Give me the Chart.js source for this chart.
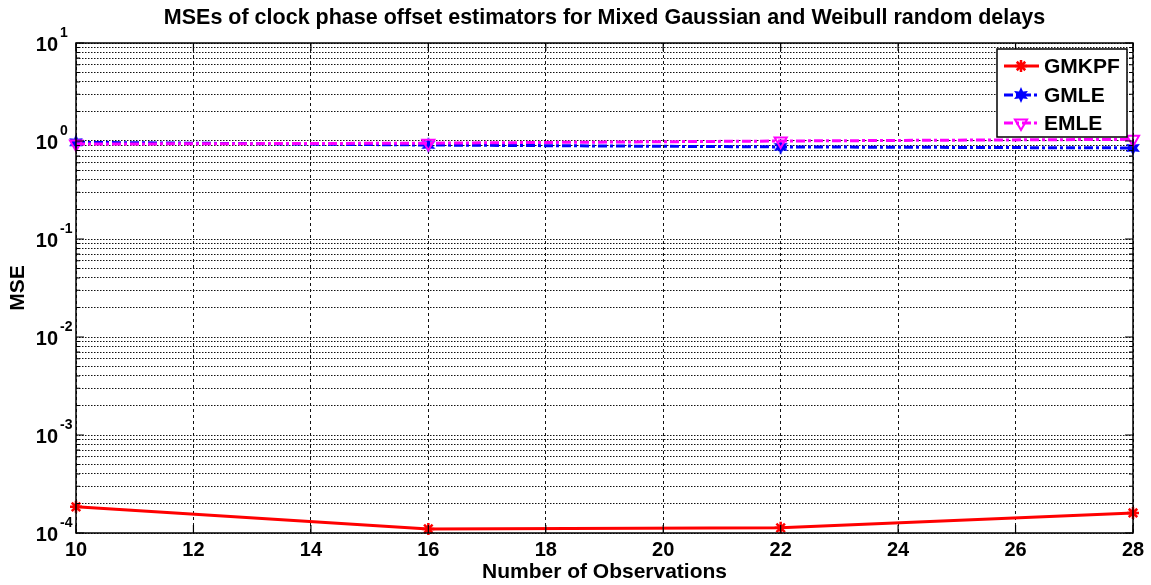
<!DOCTYPE html>
<html>
<head>
<meta charset="utf-8">
<script src="https://cdn.jsdelivr.net/npm/chart.js@4.4.1/dist/chart.umd.min.js"></script>
<style>
html, body { margin: 0; padding: 0; background: #fff; }
#holder { width: 1151px; height: 585px; }
</style>
</head>
<body>
<div id="holder"><canvas id="mseChart"></canvas></div>
<script>
// values
const observations = [10, 16, 22, 28];
const gmkpfMse = [1.85e-4, 1.1e-4, 1.13e-4, 1.6e-4];
const gmleMse = [0.97, 0.91, 0.87, 0.85];
const emleMse = [0.93, 0.95, 1.0, 1.04];

const xTickValues = [10, 12, 14, 16, 18, 20, 22, 24, 26, 28];
const yDecades = [-4, -3, -2, -1, 0, 1];
const seriesNames = ['GMKPF', 'GMLE', 'EMLE'];

const FONT = "'Liberation Sans', Arial, sans-serif";
const DASH_DOT = [9, 3, 3, 3];

// filled hexagram used for the GMLE marker
function hexagramImage(color, r){
    const c = document.createElement('canvas');
    c.width = r * 2 + 2;
    c.height = r * 2 + 2;
    const g = c.getContext('2d');
    g.translate(r + 1, r + 1);
    starPath(g, r);
    g.fillStyle = color;
    g.fill();
    return c;
}

function starPath(g, r){
    g.beginPath();
    for (let i = 0; i < 12; i++){
        const a = -Math.PI / 2 + i * Math.PI / 6;
        const rr = i % 2 == 0 ? r : r * 0.5;
        const px = Math.cos(a) * rr;
        const py = Math.sin(a) * rr;
        if (i == 0) g.moveTo(px, py); else g.lineTo(px, py);
    }
    g.closePath();
}

function drawAsterisk(ctx, x, y, r, color){
    ctx.save();
    ctx.strokeStyle = color;
    ctx.lineWidth = 2.5;
    ctx.setLineDash([]);
    ctx.beginPath();
    for (let i = 0; i < 4; i++){
        const a = i * Math.PI / 4;
        ctx.moveTo(x - Math.cos(a) * r, y - Math.sin(a) * r);
        ctx.lineTo(x + Math.cos(a) * r, y + Math.sin(a) * r);
    }
    ctx.stroke();
    ctx.restore();
}

function drawTriangleDown(ctx, x, y, r, color){
    ctx.save();
    ctx.strokeStyle = color;
    ctx.lineWidth = 2;
    ctx.setLineDash([]);
    ctx.beginPath();
    ctx.moveTo(x - r * 0.87, y - r * 0.5);
    ctx.lineTo(x + r * 0.87, y - r * 0.5);
    ctx.lineTo(x, y + r);
    ctx.closePath();
    ctx.stroke();
    ctx.restore();
}

const gmleMarker = hexagramImage('#0000ff', 8);

const framePlugin = {
    id: 'matlabFrame',
    afterDraw(chart){
        const ctx = chart.ctx;
        const area = chart.chartArea;
        const xs = chart.scales.x;
        const ys = chart.scales.y;
        ctx.save();

        // y tick labels as 10 with a raised exponent
        ctx.fillStyle = '#000';
        for (const d of yDecades){
            const y = ys.getPixelForValue(Math.pow(10, d));
            ctx.font = 'bold 20px ' + FONT;
            ctx.textAlign = 'right';
            ctx.textBaseline = 'alphabetic';
            ctx.fillText('10', 58, y + 8);
            ctx.font = 'bold 14px ' + FONT;
            ctx.textAlign = 'left';
            ctx.fillText(String(d), 60, y - 6);
        }

        // box round the plot
        ctx.strokeStyle = '#000';
        ctx.lineWidth = 1.5;
        ctx.setLineDash([]);
        ctx.strokeRect(area.left, area.top, area.right - area.left, area.bottom - area.top);

        // inward tick marks
        ctx.lineWidth = 1.2;
        ctx.beginPath();
        for (const v of xTickValues){
            const x = xs.getPixelForValue(v);
            ctx.moveTo(x, area.bottom); ctx.lineTo(x, area.bottom - 8);
            ctx.moveTo(x, area.top); ctx.lineTo(x, area.top + 8);
        }
        for (const t of ys.ticks){
            const y = ys.getPixelForValue(t.value);
            const len = t.major ? 8 : 4;
            ctx.moveTo(area.left, y); ctx.lineTo(area.left + len, y);
            ctx.moveTo(area.right, y); ctx.lineTo(area.right - len, y);
        }
        ctx.stroke();

        // legend box
        const lx = 997, ly = 49, lw = 130, lh = 88;
        ctx.fillStyle = '#fff';
        ctx.fillRect(lx, ly, lw, lh);
        ctx.lineWidth = 1.5;
        ctx.strokeRect(lx, ly, lw, lh);

        const rows = [66, 95, 123];
        const styles = chart.data.datasets;
        for (let i = 0; i < seriesNames.length; i++){
            const ds = styles[i];
            const y = rows[i];
            ctx.save();
            ctx.strokeStyle = ds.borderColor;
            ctx.lineWidth = ds.borderWidth;
            ctx.setLineDash(ds.borderDash || []);
            ctx.beginPath();
            ctx.moveTo(1004, y);
            ctx.lineTo(1039, y);
            ctx.stroke();
            ctx.restore();
            if (i == 0) drawAsterisk(ctx, 1021, y, 6, ds.borderColor);
            if (i == 1) ctx.drawImage(gmleMarker, 1021 - gmleMarker.width / 2, y - gmleMarker.height / 2);
            if (i == 2) drawTriangleDown(ctx, 1021, y, 7, ds.borderColor);
            ctx.fillStyle = '#000';
            ctx.font = 'bold 21px ' + FONT;
            ctx.textAlign = 'left';
            ctx.textBaseline = 'middle';
            ctx.fillText(seriesNames[i], 1044, y + 1);
        }
        ctx.restore();
    }
};

function toPoints(values){
    return observations.map((x, i) => ({x: x, y: values[i]}));
}

new Chart(document.getElementById('mseChart'), {
    type: 'line',
    data: {
        datasets: [{
            label: seriesNames[0],
            data: toPoints(gmkpfMse),
            borderColor: '#ff0000',
            backgroundColor: '#ff0000',
            borderWidth: 3,
            pointStyle: 'star',
            pointRadius: 6,
            pointBorderWidth: 2.5,
            clip: false,
            order: 2
        }, {
            label: seriesNames[1],
            data: toPoints(gmleMse),
            borderColor: '#0000ff',
            backgroundColor: '#0000ff',
            borderWidth: 3,
            borderDash: DASH_DOT,
            pointStyle: gmleMarker,
            clip: false,
            order: 1
        }, {
            label: seriesNames[2],
            data: toPoints(emleMse),
            borderColor: '#ff00ff',
            backgroundColor: 'rgba(0,0,0,0)',
            borderWidth: 3,
            borderDash: DASH_DOT,
            pointStyle: 'triangle',
            rotation: 180,
            pointRadius: 7,
            pointBorderWidth: 2,
            clip: false,
            order: 0
        }]
    },
    options: {
        responsive: true,
        maintainAspectRatio: false,
        animation: false,
        devicePixelRatio: 1,
        layout: { padding: { left: 0, right: 18, top: 0, bottom: 0 } },
        plugins: {
            legend: { display: false },
            tooltip: { enabled: false },
            title: {
                display: true,
                fullSize: false,
                text: 'MSEs of clock phase offset estimators for Mixed Gaussian and Weibull random delays',
                color: '#000',
                font: { family: FONT, size: 21.5, weight: 'bold' },
                padding: { top: 5, bottom: 12.2 }
            }
        },
        scales: {
            x: {
                type: 'linear',
                min: 10,
                max: 28,
                afterBuildTicks: scale => { scale.ticks = xTickValues.map(v => ({value: v})); },
                afterFit: scale => { scale.height = 52; },
                ticks: {
                    color: '#000',
                    font: { family: FONT, size: 20, weight: 'bold' },
                    padding: 5,
                    maxRotation: 0,
                    autoSkip: false
                },
                grid: { color: '#111', lineWidth: 1, drawTicks: false },
                border: { display: false, dash: [3, 3] },
                title: {
                    display: true,
                    text: 'Number of Observations',
                    color: '#000',
                    font: { family: FONT, size: 21, weight: 'bold' },
                    padding: { top: 0, bottom: 0 }
                }
            },
            y: {
                type: 'logarithmic',
                min: 1e-4,
                max: 10,
                afterBuildTicks: scale => {
                    const ticks = [];
                    for (const d of yDecades){
                        const base = Math.pow(10, d);
                        if (d == yDecades[yDecades.length - 1]){
                            ticks.push({value: base, major: true});
                            continue;
                        }
                        for (let m = 1; m < 10; m++){
                            ticks.push({value: m * base, major: m == 1});
                        }
                    }
                    scale.ticks = ticks;
                },
                afterFit: scale => { scale.width = 76; },
                ticks: {
                    callback: () => '',
                    autoSkip: false
                },
                grid: { color: '#111', lineWidth: 1, drawTicks: false },
                border: { display: false, dash: [1.5, 1.5] },
                title: {
                    display: true,
                    text: 'MSE',
                    color: '#000',
                    font: { family: FONT, size: 21, weight: 'bold' },
                    padding: { top: 6, bottom: 0 }
                }
            }
        }
    },
    plugins: [framePlugin]
});
</script>
</body>
</html>
